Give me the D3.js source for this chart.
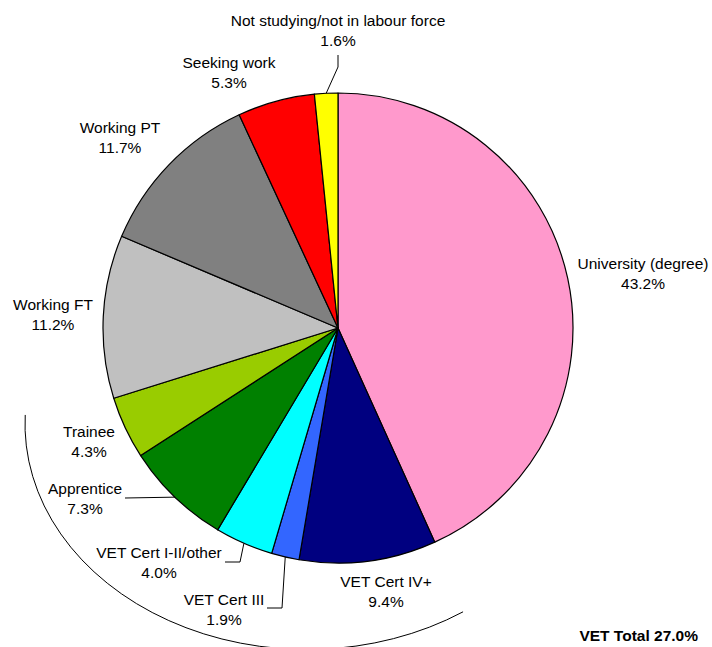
<!DOCTYPE html>
<html>
<head>
<meta charset="utf-8">
<script src="https://cdn.jsdelivr.net/npm/d3@7"></script>
<style>
  body { margin: 0; background: #fff; }
  text { font-family: "Liberation Sans", Arial, sans-serif; font-size: 15.5px; fill: #000; }
</style>
</head>
<body>
<svg id="chart"></svg>
<script>
// slices, clockwise from 12 o'clock
const categories = ["University (degree)", "VET Cert IV+", "VET Cert III", "VET Cert I-II/other",
  "Apprentice", "Trainee", "Working FT", "Working PT", "Seeking work", "Not studying/not in labour force"];
const shares = [43.2, 9.4, 1.9, 4.0, 7.3, 4.3, 11.2, 11.7, 5.3, 1.6];
const colours = ["#FF99CC", "#000080", "#3366FF", "#00FFFF", "#008000",
  "#99CC00", "#C0C0C0", "#808080", "#FF0000", "#FFFF00"];
const vetTotal = "VET Total 27.0%";

// label placement: centre x, baseline of first line
const labelPos = [[643, 269], [386, 587], [224, 605], [159, 558], [85, 494],
  [89, 437], [53, 310], [120, 133], [229, 68], [338, 26]];
// leader line bends (after the point on the pie edge)
const leaders = {
  2: [[282, 608], [267, 608]],
  3: [[240, 562], [225, 562]],
  4: [[125, 498]],
  9: [[338, 67], [338, 55]]
};

const W = 712, H = 647;
const cx = 338, cy = 328, r = 235;

const svg = d3.select('#chart').attr('width', W).attr('height', H);

const pie = d3.pie().sort(null).value(d => d);
const arcs = pie(shares);
const arc = d3.arc().innerRadius(0).outerRadius(r);

const g = svg.append('g').attr('transform', `translate(${cx},${cy})`);

g.selectAll('path.slice')
  .data(arcs)
  .enter()
  .append('path')
  .attr('class', 'slice')
  .attr('d', arc)
  .attr('fill', (d, i) => colours[i])
  .attr('stroke', '#000')
  .attr('stroke-width', 1.2)
  .attr('stroke-linejoin', 'round');

// leader lines
const line = d3.line();
Object.keys(leaders).forEach(k => {
  const a = arcs[k];
  const mid = (a.startAngle + a.endAngle) / 2;
  const start = [cx + r * Math.sin(mid), cy - r * Math.cos(mid)];
  svg.append('path')
    .attr('d', line([start].concat(leaders[k])))
    .attr('fill', 'none')
    .attr('stroke', '#000')
    .attr('stroke-width', 1);
});

// labels
categories.forEach((c, i) => {
  const t = svg.append('text')
    .attr('x', labelPos[i][0])
    .attr('y', labelPos[i][1])
    .attr('text-anchor', 'middle');
  t.append('tspan').attr('x', labelPos[i][0]).text(c);
  t.append('tspan').attr('x', labelPos[i][0]).attr('dy', 20).text(d3.format('.1f')(shares[i]) + '%');
});

// bracket (part of an ellipse) around the VET slices
const ex = 307, ey = 424, erx = 282, ery = 225.5;
const t0 = 182.3 * Math.PI / 180, t1 = 56.4 * Math.PI / 180;
const ePt = t => [ex + erx * Math.cos(t), ey + ery * Math.sin(t)];
const s = ePt(t0), e = ePt(t1);
svg.append('path')
  .attr('d', `M${s[0]},${s[1]} A${erx},${ery} 0 0 0 ${e[0]},${e[1]}`)
  .attr('fill', 'none')
  .attr('stroke', '#000')
  .attr('stroke-width', 1);

svg.append('text')
  .attr('x', 698)
  .attr('y', 641)
  .attr('text-anchor', 'end')
  .style('font-weight', 'bold')
  .text(vetTotal);
</script>
</body>
</html>
